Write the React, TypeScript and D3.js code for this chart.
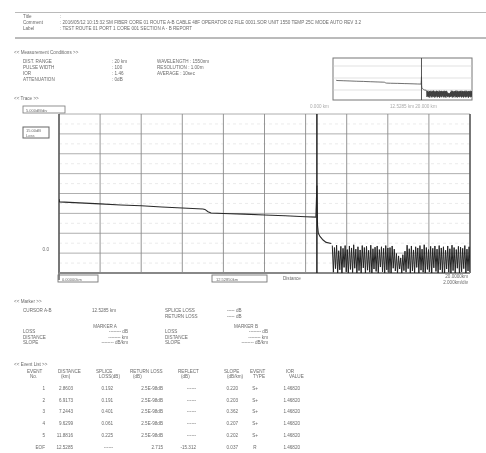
import React from "react";
import * as d3 from "d3";

// ---- data ----
const traceKm = [0, 0.03, 1, 2, 3, 4, 5, 6, 7.0, 7.1, 7.25, 7.4, 8, 9, 10, 11, 12, 12.5, 12.55, 12.58, 12.62, 12.7, 12.85, 13.0, 13.25];
const traceDb = [18.6, 17.9, 17.65, 17.4, 17.1, 16.9, 16.6, 16.35, 16.1, 16.0, 15.4, 15.1, 14.95, 14.8, 14.6, 14.4, 14.15, 14.05, 22.0, 12.0, 10.0, 9.2, 8.3, 7.7, 7.4];
const noiseStartKm = 13.3;
const noiseStepKm = 0.052;
const noiseDb = [
  6.9, 0.2, 6.4, 1.1, 7.0, 0.0, 5.6, 0.8, 6.7, -0.5,
  6.2, 1.4, 6.9, 0.3, 5.9, -0.3, 6.8, 0.9, 6.3, 0.1,
  7.1, 1.2, 6.0, -0.4, 6.6, 0.6, 5.8, 0.0, 6.9, 1.3,
  6.4, -0.2, 6.7, 0.7, 5.7, 0.2, 7.0, -0.6, 6.1, 1.0,
  6.5, 0.4, 6.8, -0.1, 5.9, 1.5, 6.6, 0.3, 6.2, -0.3,
  6.9, 0.8, 6.3, 0.1, 6.4, -0.5, 6.8, 1.2, 6.0, 0.5,
  4.9, 0.0, 4.3, 1.0, 3.8, -0.2, 4.6, 0.6, 5.5, 0.2,
  7.0, 1.1, 6.1, -0.4, 6.8, 0.5, 5.8, 0.0, 6.6, 1.4,
  6.3, -0.2, 6.9, 0.7, 6.0, 0.2, 7.1, -0.5, 6.4, 0.9,
  5.9, 0.3, 6.7, -0.1, 6.2, 1.3, 6.8, 0.4, 6.0, -0.3,
  6.9, 0.8, 6.3, 0.1, 6.6, -0.4, 5.7, 1.0, 6.8, 0.2,
  6.1, -0.2, 7.0, 0.6, 6.4, 0.0, 5.9, 1.2, 6.7, -0.6,
  6.5, 0.3, 6.2, 1.1, 6.9, -0.1, 6.0, 0.5, 6.6, 0.2,
];
const markerKm = 12.55;
const xTicksKm = [0, 2, 4, 6, 8, 10, 12, 14, 16, 18, 20];
const yTicksDb = [0, 5, 10, 15, 20, 25, 30, 35, 40];

const headerRows = [
  ["Title", ":"],
  ["Comment", ": 2016/05/12 10:15:32  SM FIBER  CORE 01  ROUTE A-B  CABLE 48F  OPERATOR 02  FILE 0001.SOR  UNIT 1550  TEMP 25C  MODE AUTO  REV 3.2"],
  ["Label", ":  TEST ROUTE 01  PORT 1  CORE 001  SECTION A - B  REPORT"],
];
const condLeft = [
  ["DIST. RANGE", ": 20 km"],
  ["PULSE WIDTH", ": 100"],
  ["IOR", ": 1.46"],
  ["ATTENUATION", ": 0dB"],
];
const condRight = ["WAVELENGTH : 1550nm", "RESOLUTION : 1.00m", "AVERAGE : 10sec"];
const markerRows = ["LOSS", "DISTANCE", "SLOPE"];
const eventHead1 = ["EVENT", "DISTANCE", "SPLICE", "RETURN LOSS", "REFLECT", "SLOPE", "EVENT", "IOR"];
const eventHead2 = ["No.", "(km)", "LOSS(dB)", "(dB)", "(dB)", "(dB/km)", "TYPE", "VALUE"];
const eventNo = ["1", "2", "3", "4", "5", "EOF"];
const eventDist = ["2.8603", "6.9173", "7.2443", "9.6299", "11.8816", "12.5285"];
const eventSplice = ["0.192", "0.191", "0.401", "0.061", "0.225", "------"];
const eventReturn = ["2.5E-98dB", "2.5E-98dB", "2.5E-98dB", "2.5E-98dB", "2.5E-98dB", "2.715"];
const eventRefl = ["------", "------", "------", "------", "------", "-15.312"];
const eventSlope = ["0.220", "0.203", "0.362", "0.207", "0.202", "0.037"];
const eventType = ["S+", "S+", "S+", "S+", "S+", "R"];
const eventIor = ["1.46820", "1.46820", "1.46820", "1.46820", "1.46820", "1.46820"];

export default function App() {
  const W = 486, H = 453;
  const x = d3.scaleLinear().domain([0, 20]).range([59, 470]);
  const y = d3.scaleLinear().domain([0, 40]).range([273, 114]);
  const ix = d3.scaleLinear().domain([-0.5, 20]).range([333, 472]);
  const iy = d3.scaleLinear().domain([-3, 42]).range([100, 58]);

  const pts: [number, number][] = traceKm.map((k, i) => [k, traceDb[i]]);
  const noisePts: [number, number][] = noiseDb.map((v, i) => [noiseStartKm + i * noiseStepKm, v]);
  const all = pts.concat(noisePts);
  const line = d3.line<[number, number]>().x(d => x(d[0])).y(d => y(d[1]));
  const iline = d3.line<[number, number]>().x(d => ix(d[0])).y(d => iy(d[1]));

  const txt = "#6a6a6a";
  const fs = 4.6;
  const font = "Liberation Sans, Arial, sans-serif";
  const T = (props: any) => <text fontSize={fs} fill={txt} fontFamily={font} {...props} />;

  const minorY = d3.range(0, 40, 5).map(v => v + 2.5);
  const evCols = [
    { x: 45, a: "end", arr: eventNo },
    { x: 73, a: "end", arr: eventDist },
    { x: 113, a: "end", arr: eventSplice },
    { x: 163, a: "end", arr: eventReturn },
    { x: 196, a: "end", arr: eventRefl },
    { x: 238, a: "end", arr: eventSlope },
    { x: 255, a: "middle", arr: eventType },
    { x: 300, a: "end", arr: eventIor },
  ];
  const headX = [27, 58, 96, 130, 178, 224, 250, 286];
  const rowsY = [390, 402, 413, 425, 437, 449];

  return (
    <svg width={W} height={H} style={{ position: "absolute", left: 0, top: 0, background: "#fff" }}>
      <defs>
        <filter id="blur" x="0" y="0" width="1" height="1">
          <feGaussianBlur stdDeviation="0.45" />
        </filter>
        <clipPath id="mainClip"><rect x={59} y={114} width={411} height={159} /></clipPath>
        <clipPath id="insClip"><rect x={333} y={58} width={139} height={42} /></clipPath>
      </defs>
      <rect width={W} height={H} fill="#fff" />
      <g filter="url(#blur)">
        {/* header */}
        <line x1={15} x2={486} y1={12} y2={12} stroke="#777" strokeWidth={1} />
        <line x1={15} x2={486} y1={38} y2={38} stroke="#777" strokeWidth={1} />
        {headerRows.map((r, i) => (
          <g key={i}>
            <T x={23} y={18 + i * 6}>{r[0]}</T>
            <T x={60} y={18 + i * 6}>{r[1]}</T>
          </g>
        ))}

        {/* measurement conditions */}
        <T x={14} y={54}>{"<< Measurement Conditions >>"}</T>
        {condLeft.map((r, i) => (
          <g key={i}>
            <T x={23} y={63 + i * 6}>{r[0]}</T>
            <T x={112} y={63 + i * 6}>{r[1]}</T>
          </g>
        ))}
        {condRight.map((r, i) => (
          <T key={i} x={157} y={63 + i * 6}>{r}</T>
        ))}

        {/* inset overview */}
        <rect x={333} y={58} width={139} height={42} fill="none" stroke="#777" strokeWidth={1} />
        {[66, 78, 90].map((v, i) => (
          <line key={i} x1={333} x2={472} y1={v} y2={v} stroke="#ccc" strokeWidth={0.6} />
        ))}
        <g clipPath="url(#insClip)">
          <path d={iline(all) || ""} fill="none" stroke="#333" strokeWidth={0.7} />
        </g>
        <line x1={ix(markerKm)} x2={ix(markerKm)} y1={58} y2={100} stroke="#444" strokeWidth={0.9} />
        <T x={310} y={108} fill="#aaa">0.000 km</T>
        <T x={390} y={108} fill="#aaa">12.5285 km   20.000 km</T>

        {/* trace section */}
        <T x={14} y={100}>{"<< Trace >>"}</T>
        <rect x={23} y={106} width={42} height={7} fill="none" stroke="#777" strokeWidth={0.8} />
        <T x={26} y={111.5} fontSize={4}>5.000dB/div</T>
        <rect x={23} y={127} width={26} height={11} fill="none" stroke="#666" strokeWidth={1} />
        <T x={26} y={132} fontSize={4}>15.00dB</T>
        <T x={26} y={136.5} fontSize={4}>Loss</T>
        <T x={49} y={251} textAnchor="end">0.0</T>

        {/* minor grid */}
        {minorY.map((v, i) => (
          <line key={"my" + i} x1={59} x2={470} y1={y(v)} y2={y(v)} stroke="#ddd" strokeWidth={0.6} strokeDasharray="3,3" />
        ))}
        {/* major grid */}
        {yTicksDb.map((v, i) => (
          <line key={"gy" + i} x1={59} x2={470} y1={y(v)} y2={y(v)} stroke="#9a9a9a" strokeWidth={0.8} />
        ))}
        {xTicksKm.map((v, i) => (
          <line key={"gx" + i} x1={x(v)} x2={x(v)} y1={114} y2={273} stroke="#8a8a8a" strokeWidth={0.9} />
        ))}
        <line x1={59} x2={59} y1={114} y2={280} stroke="#555" strokeWidth={1.4} />
        <line x1={470} x2={470} y1={114} y2={273} stroke="#555" strokeWidth={1.4} />
        <line x1={59} x2={470} y1={273} y2={273} stroke="#888" strokeWidth={2} />

        <g clipPath="url(#mainClip)">
          <path d={line(pts) || ""} fill="none" stroke="#2a2a2a" strokeWidth={1.1} />
          <path d={line(noisePts) || ""} fill="none" stroke="#222" strokeWidth={1.0} />
        </g>
        <line x1={x(markerKm)} x2={x(markerKm)} y1={114} y2={273} stroke="#222" strokeWidth={1.5} />

        {/* below plot */}
        <rect x={58} y={275} width={40} height={7} fill="none" stroke="#777" strokeWidth={0.9} />
        <T x={62} y={280.5} fontSize={4}>0.00000km</T>
        <rect x={212} y={275} width={55} height={7} fill="none" stroke="#777" strokeWidth={0.9} />
        <T x={216} y={280.5} fontSize={4}>12.52850km</T>
        <T x={283} y={280}>Distance</T>
        <T x={468} y={278} textAnchor="end">20.0000km</T>
        <T x={468} y={284} textAnchor="end">2.000km/div</T>

        {/* marker section */}
        <T x={14} y={303}>{"<< Marker >>"}</T>
        <T x={23} y={312}>CURSOR A-B</T>
        <T x={92} y={312}>12.5285 km</T>
        <T x={165} y={312}>SPLICE LOSS</T>
        <T x={227} y={312}>-----  dB</T>
        <T x={165} y={318}>RETURN LOSS</T>
        <T x={227} y={318}>-----  dB</T>
        <T x={105} y={328} textAnchor="middle">MARKER A</T>
        <T x={246} y={328} textAnchor="middle">MARKER B</T>
        {markerRows.map((r, i) => (
          <g key={i}>
            <T x={23} y={333 + i * 5.5}>{r}</T>
            <T x={128} y={333 + i * 5.5} textAnchor="end">{"--------  " + ["dB", "km", "dB/km"][i]}</T>
            <T x={165} y={333 + i * 5.5}>{r}</T>
            <T x={268} y={333 + i * 5.5} textAnchor="end">{"--------  " + ["dB", "km", "dB/km"][i]}</T>
          </g>
        ))}

        {/* event list */}
        <T x={14} y={366}>{"<< Event List >>"}</T>
        {eventHead1.map((h, i) => (
          <T key={"h1" + i} x={headX[i]} y={373}>{h}</T>
        ))}
        {eventHead2.map((h, i) => (
          <T key={"h2" + i} x={headX[i] + 3} y={378}>{h}</T>
        ))}
        {evCols.map((c, ci) =>
          c.arr.map((v, ri) => (
            <T key={ci + "-" + ri} x={c.x} y={rowsY[ri]} textAnchor={c.a}>{v}</T>
          ))
        )}
      </g>
    </svg>
  );
}
